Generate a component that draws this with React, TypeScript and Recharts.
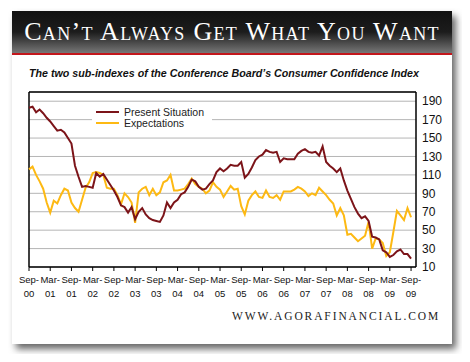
import React from "react";
import {
  LineChart,
  Line,
  XAxis,
  YAxis,
  CartesianGrid,
  Legend,
  ReferenceLine,
} from "recharts";

// monthly, Sep-00 .. Sep-09
const present = [
  183, 184, 178, 181, 177, 172, 168, 163, 158, 159, 156, 150, 144, 120, 108, 97,
  98, 97, 96, 112, 108, 111, 105, 99, 93, 86, 77, 75, 69, 75, 62, 70, 74, 67, 63,
  61, 60, 59, 66, 80, 74, 80, 83, 89, 91, 97, 105, 103, 97, 94, 95, 100, 104, 113,
  117, 114, 117, 121, 120, 120, 124, 107, 111, 118, 126, 130, 132, 137, 135, 134,
  135, 124, 128, 127, 127, 127, 133, 136, 138, 135, 134, 135, 131, 141, 124, 120,
  117, 113, 117, 104, 93, 84, 75, 68, 63, 65, 60, 43, 42, 40, 28, 26, 21, 23, 27,
  29, 24, 24, 19,
];

const expectations = [
  116, 119, 110, 103, 95, 80, 69, 82, 79, 88, 95, 93, 80, 74, 70, 83, 96, 102,
  112, 113, 112, 110, 96, 95, 95, 88, 78, 90, 86, 80, 58, 91, 95, 97, 88, 95, 88,
  91, 102, 104, 110, 93, 93, 94, 95, 100, 106, 100, 97, 95, 90, 93, 102, 97, 94,
  86, 92, 98, 94, 95, 76, 67, 82, 88, 92, 86, 85, 93, 86, 85, 88, 83, 92, 92, 92,
  94, 97, 95, 92, 87, 90, 88, 96, 92, 88, 83, 79, 66, 74, 66, 45, 46, 42, 38, 41,
  44, 59, 30, 41, 40, 36, 22, 26, 48, 71, 66, 61, 74, 64,
];

const tickLabels = [
  "Sep-00", "Mar-01", "Sep-01", "Mar-02", "Sep-02", "Mar-03", "Sep-03",
  "Mar-04", "Sep-04", "Mar-05", "Sep-05", "Mar-06", "Sep-06", "Mar-07",
  "Sep-07", "Mar-08", "Sep-08", "Mar-09", "Sep-09",
];

const yTicks = [10, 30, 50, 70, 90, 110, 130, 150, 170, 190];

const data = present.map((v, i) => ({
  m: i,
  present: v,
  expectations: expectations[i],
}));

const xTicks = tickLabels.map((_, i) => i * 6);

const RED = "#7c1419";
const GOLD = "#fdb913";
const SANS = "'Liberation Sans', Arial, sans-serif";
const SERIF = "'Liberation Serif', 'Times New Roman', serif";

const XTick = (props: any) => {
  const { x, y, payload } = props;
  const label = tickLabels[Math.round(payload.value / 6)] || "";
  const [mon, yr] = label.split("-");
  return (
    <g transform={`translate(${x},${y})`}>
      <text x={0} y={12} textAnchor="middle" fontSize={9.5} fill="#111" fontFamily={SANS}>
        {mon + "-"}
      </text>
      <text x={0} y={26} textAnchor="middle" fontSize={9.5} fill="#111" fontFamily={SANS}>
        {yr}
      </text>
    </g>
  );
};

const LegendBox = () => (
  <div
    style={{
      background: "#fff",
      padding: "2px 4px",
      width: 112,
      fontFamily: SANS,
      fontSize: 10.5,
      color: "#222",
    }}
  >
    {[
      { name: "Present Situation", color: RED },
      { name: "Expectations", color: GOLD },
    ].map((r) => (
      <div key={r.name} style={{ display: "flex", alignItems: "center", height: 11.5 }}>
        <span
          style={{ width: 23, height: 2, background: r.color, marginRight: 5, display: "inline-block" }}
        />
        <span>{r.name}</span>
      </div>
    ))}
  </div>
);

export default function App() {
  return (
    <div style={{ position: "relative", width: 470, height: 362, margin: -8, background: "#fff" }}>
      {/* card */}
      <div
        style={{
          position: "absolute",
          left: 12,
          top: 11,
          width: 440,
          height: 333,
          background: "#fff",
          boxShadow: "4px 5px 7px rgba(0,0,0,0.6)",
        }}
      />
      {/* banner */}
      <div
        style={{
          position: "absolute",
          left: 12,
          top: 11,
          width: 440,
          height: 42,
          background: "linear-gradient(to bottom, #111 0%, #1c1c1c 50%, #777 100%)",
          borderBottom: "2px solid #c3161c",
        }}
      />
      <div
        style={{
          position: "absolute",
          left: 12,
          top: 17,
          width: 440,
          textAlign: "center",
          color: "#fff",
          fontFamily: SERIF,
          fontSize: 26,
          fontVariant: "small-caps",
          letterSpacing: 1.3,
          lineHeight: "30px",
          whiteSpace: "nowrap",
        }}
      >
        Can’t Always Get What You Want
      </div>
      <div
        style={{
          position: "absolute",
          left: 29,
          top: 67,
          fontFamily: SANS,
          fontSize: 10.7,
          fontWeight: 700,
          fontStyle: "italic",
          color: "#111",
          whiteSpace: "nowrap",
        }}
      >
        The two sub-indexes of the Conference Board’s Consumer Confidence Index
      </div>
      <div style={{ position: "absolute", left: 0, top: 0 }}>
        <LineChart
          width={470}
          height={362}
          data={data}
          margin={{ top: 92, right: 14, bottom: 65, left: 29 }}
        >
          <CartesianGrid horizontal vertical={false} stroke="#b5b5b5" strokeWidth={1} />
          <XAxis
            dataKey="m"
            type="number"
            domain={[0, 109.4]}
            ticks={xTicks}
            interval={0}
            height={30}
            tickSize={4}
            tickMargin={0}
            tick={<XTick />}
            axisLine={{ stroke: "#000", strokeWidth: 1.5 }}
            tickLine={{ stroke: "#000" }}
          />
          <YAxis
            orientation="right"
            domain={[10, 200]}
            ticks={yTicks}
            interval={0}
            width={40}
            tickSize={0}
            tickMargin={6}
            tickLine={false}
            axisLine={{ stroke: "#000", strokeWidth: 1.5 }}
            tick={{ fontSize: 12, fill: "#111", fontFamily: SANS }}
          />
          <ReferenceLine y={200} stroke="#000" strokeWidth={1.5} />
          <ReferenceLine x={0} stroke="#000" strokeWidth={1.5} />
          <Legend
            layout="vertical"
            align="center"
            verticalAlign="middle"
            content={<LegendBox />}
            wrapperStyle={{ left: 92, top: 104, width: 120 }}
          />
          <Line
            dataKey="expectations"
            stroke={GOLD}
            strokeWidth={2}
            dot={false}
            isAnimationActive={false}
          />
          <Line
            dataKey="present"
            stroke={RED}
            strokeWidth={2}
            dot={false}
            isAnimationActive={false}
          />
        </LineChart>
      </div>
      <div
        style={{
          position: "absolute",
          left: 232,
          top: 310,
          fontFamily: SERIF,
          fontSize: 11.5,
          letterSpacing: 1.9,
          color: "#222",
          whiteSpace: "nowrap",
        }}
      >
        WWW.AGORAFINANCIAL.COM
      </div>
    </div>
  );
}
